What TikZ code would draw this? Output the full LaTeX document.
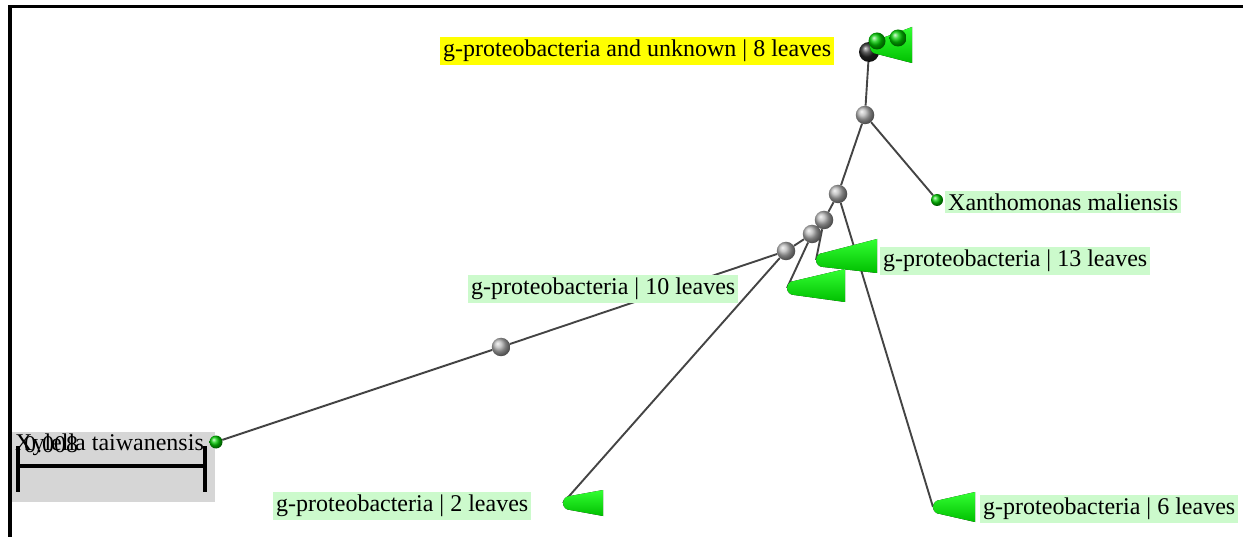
\documentclass[tikz,border=0pt]{standalone}
\usepackage{fontspec}
\setmainfont{Liberation Serif}
\usetikzlibrary{backgrounds}

\definecolor{lblgreen}{RGB}{204,250,204}
\definecolor{lblyellow}{RGB}{255,255,0}
\definecolor{branchgray}{RGB}{68,68,68}
\definecolor{scalegray}{RGB}{214,214,214}

\tikzset{
  inode/.style={circle, ball color=gray!60, minimum size=18.5pt, inner sep=0pt},
  leaf/.style={circle, ball color=green!80!black, minimum size=12pt, inner sep=0pt},
  branch/.style={draw=branchgray, line width=1.9pt},
  lbl/.style={anchor=west, fill=lblgreen, inner xsep=3pt, inner ysep=3pt,
    font=\fontsize{24}{27}\selectfont},
  cladefill/.style={top color=green!80!white, bottom color=green!75!black}
}

\newcommand{\clade}[4]{%
  \fill[cladefill, shift={(#1)}] (7,-7) -- (#2,-#3) -- (#2,#4) -- (7,7) -- cycle (7,0) circle[radius=7];}

\begin{document}
\begin{tikzpicture}[x=1pt,y=-1pt]
\useasboundingbox (0,0) rectangle (1243,537);
\draw[line width=3pt] (8,7) -- (1243,7);
\draw[line width=4pt] (10,5.5) -- (10,537);

% scale bar
\fill[scalegray] (12,432) rectangle (215,502);
\draw[line width=4pt] (18,466) -- (205,466);
\draw[line width=4pt] (18,446) -- (18,492);
\draw[line width=4pt] (205,446) -- (205,492);
\node[anchor=west, inner sep=0pt, font=\fontsize{24}{27}\selectfont] (scale) at (24,445) {0.008};

% internal nodes
\node[inode, ball color=black!85, minimum size=20pt] (n0) at (869,52) {};
\node[inode] (n1) at (865,115) {};
\node[inode] (n2) at (838,194) {};
\node[inode] (n3) at (824,220) {};
\node[inode] (n4) at (812,234) {};
\node[inode] (n5) at (786,251) {};
\node[inode] (n6) at (501,347) {};

% leaves
\node[leaf] (xan) at (937,200) {};
\node[leaf, minimum size=13pt] (xyl) at (216,442) {};

% collapsed clades
\coordinate (c8) at (870,47);
\coordinate (c13) at (816,260);
\coordinate (c10) at (787,288);
\coordinate (c2) at (563,503);
\coordinate (c6) at (933,507);

\begin{pgfonlayer}{background}
\draw[branch] (n0) -- (n1);
\draw[branch] (n1) -- (xan);
\draw[branch] (n1) -- (n2);
\draw[branch] (n2) -- (n3);
\draw[branch] (n2) -- (c6);
\draw[branch] (n3) -- (n4);
\draw[branch] (n3) -- (c13);
\draw[branch] (n4) -- (n5);
\draw[branch] (n4) -- (c10);
\draw[branch] (n5) -- (n6);
\draw[branch] (n5) -- (c2);
\draw[branch] (n6) -- (xyl);
\end{pgfonlayer}

\clade{c8}{42}{20}{16}
\clade{c13}{61}{21}{13}
\clade{c10}{58}{19}{14}
\clade{c2}{40}{13}{13}
\clade{c6}{42}{15}{15}
\node[leaf, minimum size=17pt] (g1) at (877,41) {};
\node[leaf, minimum size=17pt] (g2) at (898,38) {};

% labels
\node[lbl, fill=lblyellow] (l8) at (440,51) {g-proteobacteria and unknown | 8 leaves};
\node[lbl] (lxan) at (945,202) {Xanthomonas maliensis};
\node[lbl] (l13) at (880,261) {g-proteobacteria | 13 leaves};
\node[lbl] (l10) at (468,289) {g-proteobacteria | 10 leaves};
\node[lbl] (l2) at (273,506) {g-proteobacteria | 2 leaves};
\node[lbl] (l6) at (980,509) {g-proteobacteria | 6 leaves};
\node[anchor=west, inner sep=0pt, font=\fontsize{24}{27}\selectfont] (lxyl) at (15,445) {Xylella taiwanensis};
\end{tikzpicture}
\end{document}
